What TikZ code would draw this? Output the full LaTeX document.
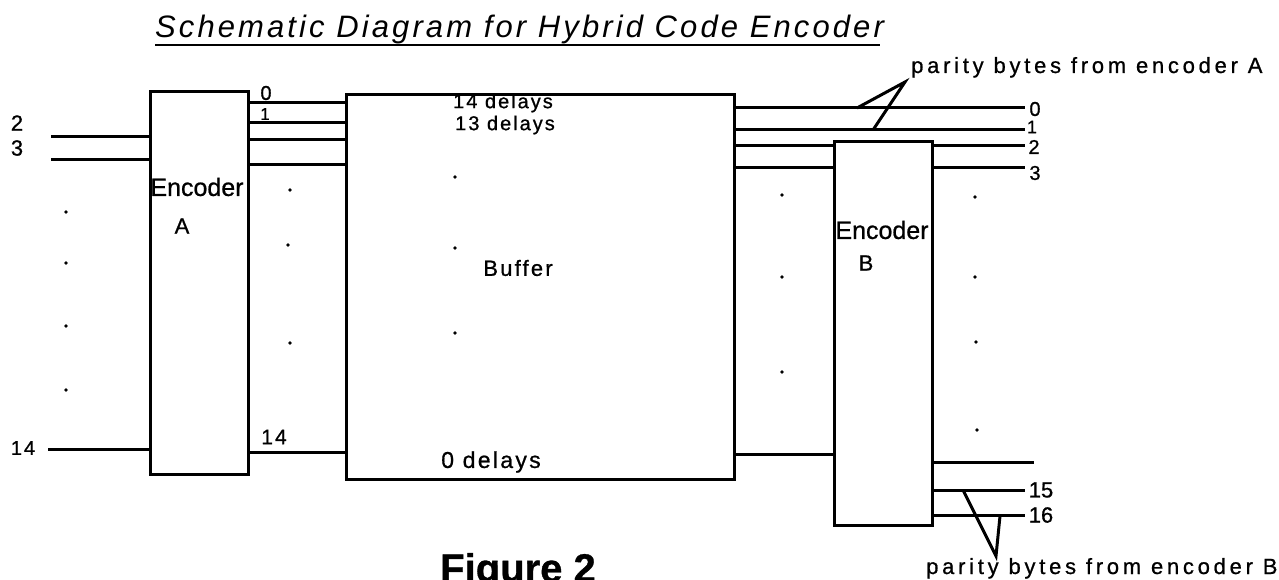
\documentclass[tikz,border=0pt]{standalone}
\usepackage{fontspec}
\setmainfont[FakeBold=0.8]{Liberation Sans}
\newfontfamily\lsfont[LetterSpace=10,FakeBold=0.8]{Liberation Sans}
\newfontfamily\plfont[LetterSpace=17,FakeBold=0.8]{Liberation Sans}
\newfontfamily\ttlfont[LetterSpace=10]{Liberation Sans}
\begin{document}
\begin{tikzpicture}[x=1pt,y=-1pt,
  box/.style={draw, line width=3.2pt, inner sep=0pt, anchor=north west},
  wire/.style={line width=3pt},
  vmark/.style={line width=3pt, line join=miter},
  lbl/.style={inner sep=0pt, font=\fontsize{20}{24}\selectfont},
  biglbl/.style={inner sep=0pt, font=\fontsize{22}{26}\selectfont},
  dlbl/.style={inner sep=0pt, font=\lsfont\fontsize{20}{22}\selectfont},
  plbl/.style={inner sep=0pt, anchor=base west, font=\plfont\fontsize{22}{24}\selectfont},
  dot/.style={circle, fill, inner sep=0pt, minimum size=3.8pt},
]
\useasboundingbox (0,0) rectangle (1279,580);
% title
\node[inner sep=0pt, anchor=base west, font=\ttlfont\itshape\fontsize{31}{34}\selectfont] (title) at (155,38) {Schematic Diagram for Hybrid Code Encoder};
\coordinate (ulA) at (155,45);
\coordinate (ulB) at (880,45);
\draw[line width=2.2pt] (ulA) -- (ulB);
% boxes
\node[box, minimum width=98pt, minimum height=383pt] (encA) at (149,90) {};
\node[box, minimum width=388pt, minimum height=385pt] (buf) at (345,93) {};
\node[box, minimum width=98pt, minimum height=384pt] (encB) at (833,140) {};
% box texts
\node[inner sep=0pt, font=\fontsize{25}{28}\selectfont] (tEA) at (197,187) {Encoder};
\node[inner sep=0pt, font=\fontsize{22}{24}\selectfont] (tA) at (182,226) {A};
\node[inner sep=0pt, font=\fontsize{25}{28}\selectfont] (tEB) at (882,230) {Encoder};
\node[inner sep=0pt, font=\fontsize{22}{24}\selectfont] (tB) at (866,263) {B};
\node[inner sep=0pt, font=\lsfont\fontsize{22}{24}\selectfont] (tBuf) at (518,268) {Buffer};
\node[dlbl] (d14) at (503,103) {14 delays};
\node[dlbl] (d13) at (505,125) {13 delays};
\node[inner sep=0pt, font=\lsfont\fontsize{23}{26}\selectfont] (d0) at (491,462) {0 delays};
% inputs to encoder A
\coordinate (i2) at (51,137);
\coordinate (i3) at (51,160);
\coordinate (i14) at (48,449);
\draw[wire] (i2) -- (i2 -| encA.west);
\draw[wire] (i3) -- (i3 -| encA.west);
\draw[wire] (i14) -- (i14 -| encA.west);
\node[biglbl] (l2) at (17,123) {2};
\node[biglbl] (l3) at (17,148) {3};
\node[lbl, font=\lsfont\fontsize{20}{22}\selectfont] (l14) at (23,448) {14};
% encoder A to buffer
\foreach \y/\n in {103/a,123/b,140/c,165/d,452/e} {
  \coordinate (m\n) at (300,\y);
  \draw[wire] (m\n -| encA.east) -- (m\n -| buf.west);
}
\node[lbl] (m0) at (266,93) {0};
\node[lbl, font=\fontsize{17}{20}\selectfont] (m1) at (265,114) {1};
\node[lbl, font=\lsfont\fontsize{21}{24}\selectfont] (m14) at (274,437) {14};
% buffer outputs
\coordinate (o0) at (1025,108);
\coordinate (o1) at (1025,130);
\coordinate (o2) at (1025,146);
\coordinate (o3) at (1025,168);
\coordinate (ob) at (900,454);
\draw[wire] (o0 -| buf.east) -- (o0);
\draw[wire] (o1 -| buf.east) -- (o1);
\draw[wire] (o2 -| buf.east) -- (o2 -| encB.west);
\draw[wire] (o3 -| buf.east) -- (o3 -| encB.west);
\draw[wire] (ob -| buf.east) -- (ob -| encB.west);
% encoder B outputs
\draw[wire] (o2 -| encB.east) -- (o2);
\draw[wire] (o3 -| encB.east) -- (o3);
\coordinate (p14) at (1034,462);
\coordinate (p15) at (1025,490);
\coordinate (p16) at (1025,515);
\draw[wire] (p14 -| encB.east) -- (p14);
\draw[wire] (p15 -| encB.east) -- (p15);
\draw[wire] (p16 -| encB.east) -- (p16);
\node[lbl] (n0) at (1035,109) {0};
\node[lbl, font=\fontsize{18}{20}\selectfont] (n1) at (1032,127) {1};
\node[lbl] (n2) at (1034,147) {2};
\node[lbl] (n3) at (1035,173) {3};
\node[lbl, font=\fontsize{22}{26}\selectfont] (n15) at (1041,490) {15};
\node[lbl, font=\fontsize{22}{26}\selectfont] (n16) at (1041,515) {16};
% parity annotations
\node[plbl] (parA) at (911,73) {parity bytes from encoder A};
\node[plbl] (parB) at (926,574) {parity bytes from encoder B};
\coordinate (va1) at (857,108);
\coordinate (vaT) at (905,82);
\coordinate (va2) at (873,130);
\draw[vmark] (va1) -- (vaT) -- (va2);
\coordinate (vb1) at (963,490);
\coordinate (vbT) at (996,556);
\coordinate (vb2) at (1000,516);
\draw[vmark] (vb1) -- (vbT) -- (vb2);
% dots
\foreach \x/\y/\n in {66/212/a,66/263/b,66/326/c,66/390/d,
  290/190/e,288/245/f,290/343/g,
  455/177/h,455/248/i,455/333/j,
  782/195/k,782/277/l,782/372/m,
  975/197/n,975/277/o,976/342/p,977/430/q}
  \node[dot] (dot\n) at (\x,\y) {};
% figure caption (cut by the page edge)
\node[inner sep=0pt, anchor=base west, font=\bfseries\fontsize{40}{44}\selectfont] (fig) at (440,582) {Figure 2};
\end{tikzpicture}
\end{document}
